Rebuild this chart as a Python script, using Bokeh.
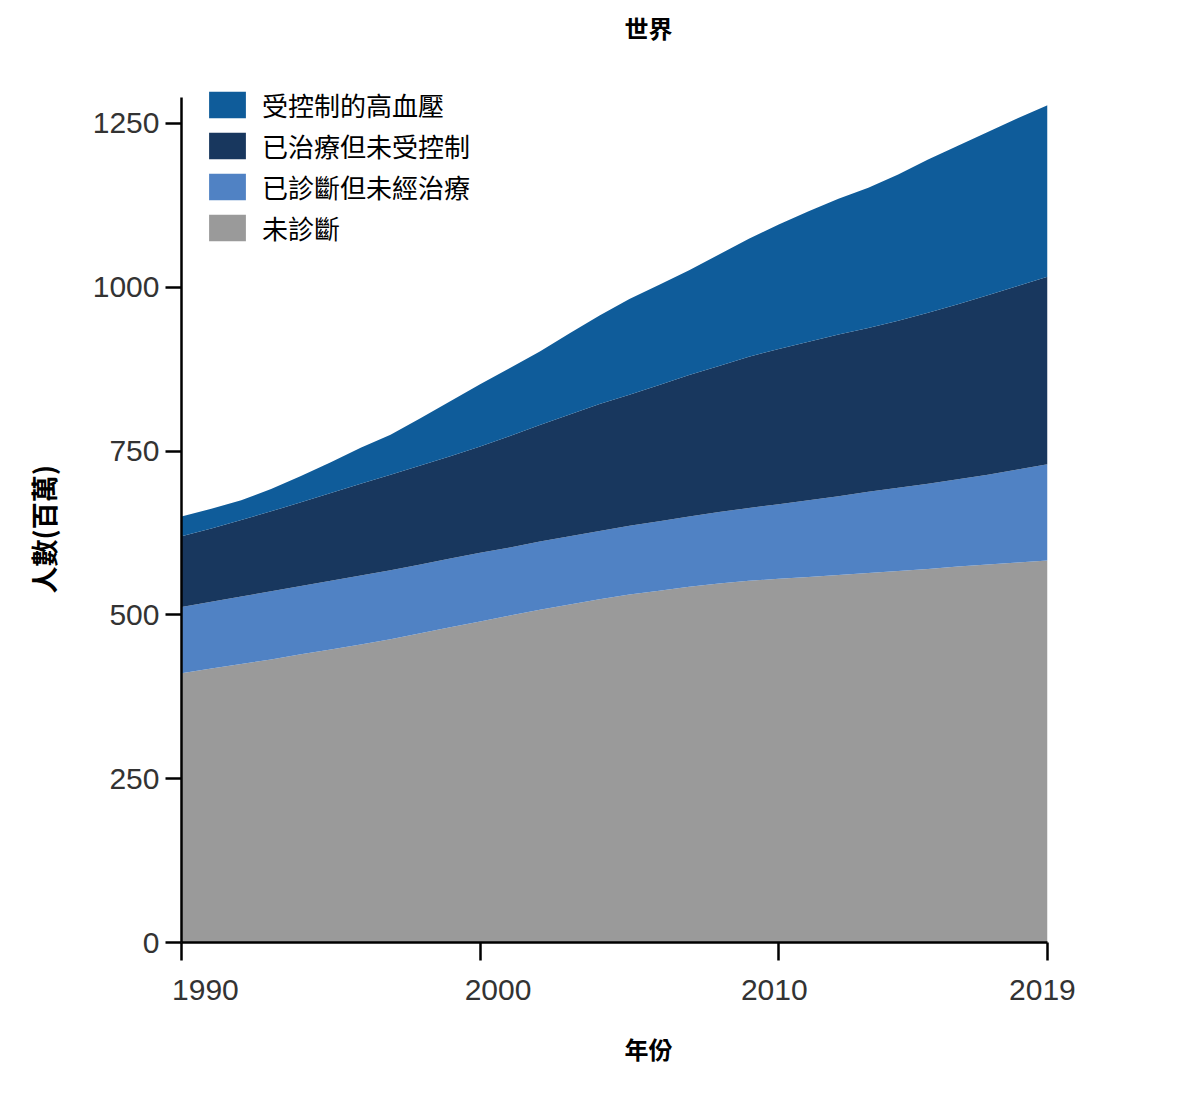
from bokeh.plotting import figure
from bokeh.models import Range1d, FixedTicker, Legend, LegendItem, Title, ColumnDataSource, LinearAxis
from bokeh.embed import file_html
from bokeh.resources import INLINE

years = list(range(1990, 2020))
undiagnosed = [411, 418, 425, 432, 440, 447, 455, 463, 472, 481, 490, 499, 508, 516, 524,
               531, 537, 543, 548, 552, 555, 558, 561, 564, 567, 570, 574, 577, 580, 583]
diagnosed_untreated = [101, 102, 103, 104, 104, 105, 105, 105, 105, 105, 105, 104, 104, 104, 104,
                       105, 106, 107, 109, 111, 114, 117, 120, 124, 127, 130, 133, 137, 142, 147]
treated_uncontrolled = [108, 112, 117, 122, 128, 134, 140, 146, 151, 156, 162, 170, 178, 186, 194,
                        200, 208, 216, 223, 231, 237, 242, 247, 250, 255, 261, 267, 274, 280, 286]
controlled = [30, 30, 30, 34, 40, 47, 55, 61, 72, 84, 95, 104, 112, 124, 135,
              146, 153, 160, 170, 180, 190, 199, 207, 214, 223, 234, 242, 249, 256, 262]

series_names = ["未診斷", "已診斷但未經治療", "已治療但未受控制", "受控制的高血壓"]
series_colors = ["#9a9a9a", "#5082c4", "#18375e", "#0f5c9a"]
y_ticks = [0, 250, 500, 750, 1000, 1250]
x_ticks = [1990, 2000, 2010, 2019]
x_tick_labels = ["1990", "2000", "2010", "2019"]
# where the reference centres each year label (slightly off its tick)
x_label_at = [1990.8, 2000.6, 2009.85, 2018.83]

source = ColumnDataSource(dict(year=years, s0=undiagnosed, s1=diagnosed_untreated,
                               s2=treated_uncontrolled, s3=controlled))

p = figure(frame_width=866, frame_height=862,
           x_range=Range1d(1990, 2019), y_range=Range1d(0, 1315.6),
           output_backend="svg", toolbar_location=None,
           min_border_left=181, min_border_right=61, min_border_top=80, min_border_bottom=150,
           background_fill_color="white", border_fill_color="white")
p.outline_line_color = None
p.grid.visible = False

renderers = p.varea_stack(stackers=["s0", "s1", "s2", "s3"], x="year",
                          color=series_colors, source=source)

CJK = "Noto Sans CJK TC"
LAT = "Liberation Sans"

for ax in (p.xaxis[0], p.yaxis[0]):
    ax.axis_line_color = "black"
    ax.axis_line_width = 2.5
    ax.major_tick_line_color = "black"
    ax.major_tick_line_width = 2.5
    ax.major_tick_in = 0
    ax.minor_tick_line_color = None
    ax.major_label_text_font = LAT
    ax.major_label_text_font_size = "30px"
    ax.major_label_text_color = "#333333"

p.yaxis.ticker = FixedTicker(ticks=y_ticks)
p.yaxis.bounds = (0, 1290)
p.yaxis.major_tick_out = 16
p.yaxis.major_label_standoff = 6

p.xaxis.ticker = FixedTicker(ticks=x_ticks)
p.xaxis.major_tick_out = 18
p.xaxis.major_label_standoff = 0
p.xaxis.major_label_overrides = {t: "" for t in x_ticks}
p.xaxis.major_label_text_font_size = "1px"

xlab_axis = LinearAxis(ticker=FixedTicker(ticks=x_label_at),
                       major_label_overrides={a: s for a, s in zip(x_label_at, x_tick_labels)},
                       axis_line_color=None, major_tick_line_color=None, minor_tick_line_color=None,
                       major_tick_out=0, major_tick_in=0, major_label_standoff=19,
                       major_label_text_font=LAT, major_label_text_font_size="30px",
                       major_label_text_color="#333333")
p.add_layout(xlab_axis, "below")


def spacer(gap):
    return Title(text=" ", text_font_size="1px", standoff=gap)


# y-axis title
p.add_layout(spacer(24), "left")
yl = Title(text="人數(百萬)", align="left", offset=349, text_font=CJK, text_font_style="bold",
           text_font_size="27px", text_color="black", standoff=0)
p.add_layout(yl, "left")

# chart title
p.add_layout(spacer(33), "above")
t = Title(text="世界", align="left", offset=443, text_font=CJK, text_font_style="bold",
          text_font_size="24px", text_color="black", standoff=0)
p.add_layout(t, "above")

# x-axis title
p.add_layout(spacer(23), "below")
xl = Title(text="年份", align="left", offset=443, text_font=CJK, text_font_style="bold",
           text_font_size="24px", text_color="black", standoff=0)
p.add_layout(xl, "below")

items = [LegendItem(label=series_names[i], renderers=[renderers[i]]) for i in (3, 2, 1, 0)]
legend = Legend(items=items, location=(23, 696), orientation="vertical",
                glyph_width=46, glyph_height=33, label_height=26, spacing=4,
                label_standoff=12, padding=0, margin=0,
                label_text_font=CJK, label_text_font_size="26px", label_text_color="black",
                border_line_color=None, background_fill_alpha=0)
p.add_layout(legend)

open("out.html", "w").write(file_html(p, INLINE))
